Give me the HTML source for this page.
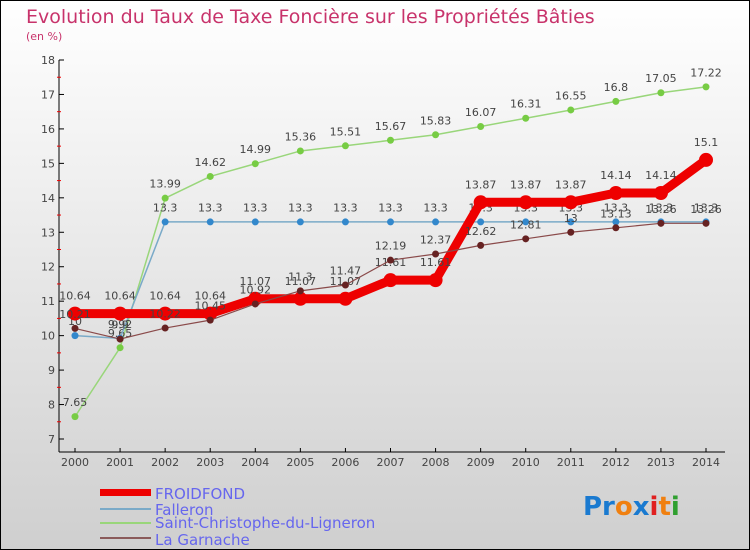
<!DOCTYPE html>
<html><head><meta charset="utf-8"><style>
body{margin:0}
svg{display:block;font-family:"DejaVu Sans","Liberation Sans",sans-serif}
</style></head><body>
<svg id="c" width="750" height="550" viewBox="0 0 750 550">
<defs><linearGradient id="bg" x1="0" y1="0" x2="0" y2="1"><stop offset="0" stop-color="#ffffff"/><stop offset="1" stop-color="#cfcfcf"/></linearGradient></defs>
<rect x="0.5" y="0.5" width="749" height="549" fill="url(#bg)" stroke="#000"/>
<text x="26" y="23" font-size="19" fill="#c8336b">Evolution du Taux de Taxe Foncière sur les Propriétés Bâties</text>
<text x="26" y="40" font-size="11" fill="#c8336b">(en %)</text>
<g id="axes"></g><g id="series"></g>
<g>
<rect x="100" y="489" width="51" height="7" fill="#ee0000"/>
<text x="155" y="499" font-size="15" fill="#6666ee">FROIDFOND</text>
<rect x="100" y="508" width="51" height="2" fill="#7aaac8"/>
<text x="155" y="515" font-size="15" fill="#6666ee">Falleron</text>
<rect x="100" y="522" width="51" height="2" fill="#99d67a"/>
<text x="155" y="528" font-size="15" fill="#6666ee">Saint-Christophe-du-Ligneron</text>
<rect x="100" y="537" width="51" height="2" fill="#8a5a5a"/>
<text x="155" y="545" font-size="15" fill="#6666ee">La Garnache</text>
</g>
<text x="583" y="515" font-size="26" font-weight="bold"><tspan fill="#1a7ad0">Pr</tspan><tspan fill="#f08010">o</tspan><tspan fill="#1a7ad0">x</tspan><tspan fill="#e02020">i</tspan><tspan fill="#f08010">t</tspan><tspan fill="#30a030">i</tspan></text>
</svg>
<script>
const years=[2000,2001,2002,2003,2004,2005,2006,2007,2008,2009,2010,2011,2012,2013,2014];
const yTicks=[7,8,9,10,11,12,13,14,15,16,17,18];
const froidfond=[10.64,10.64,10.64,10.64,11.07,11.07,11.07,11.61,11.61,13.87,13.87,13.87,14.14,14.14,15.1];
const falleron=[10,9.92,13.3,13.3,13.3,13.3,13.3,13.3,13.3,13.3,13.3,13.3,13.3,13.3,13.3];
const stchristophe=[7.65,9.65,13.99,14.62,14.99,15.36,15.51,15.67,15.83,16.07,16.31,16.55,16.8,17.05,17.22];
const lagarnache=[10.21,9.9,10.22,10.45,10.92,11.3,11.47,12.19,12.37,12.62,12.81,13,13.13,13.26,13.26];
const NS="http://www.w3.org/2000/svg";
const X=i=>75+i*(706-75)/(years.length-1);
const Y=v=>439-(v-7)*(439-60)/11;
function mk(t,a,p){const e=document.createElementNS(NS,t);for(const k in a)e.setAttribute(k,a[k]);p.appendChild(e);return e;}
const ax=document.getElementById('axes');
const xa=mk('line',{x1:59,y1:452,x2:725,y2:452,stroke:'#000'},ax);


const ya=mk('line',{x1:59,y1:60,x2:59,y2:452,stroke:'#000'},ax);


yTicks.forEach(v=>{
 mk('line',{x1:59,y1:Y(v),x2:64,y2:Y(v),stroke:'#000'},ax);
 if(v<18)mk('line',{x1:57,y1:Y(v+0.5),x2:61,y2:Y(v+0.5),stroke:'#e00'},ax);
 const t=mk('text',{x:55,y:Y(v)+4,'font-size':11,fill:'#444','text-anchor':'end'},ax);t.textContent=v;
 
 
});
years.forEach((yr,i)=>{
 mk('line',{x1:X(i),y1:448,x2:X(i),y2:452,stroke:'#000'},ax);
 const t=mk('text',{x:X(i),y:466,'font-size':11,fill:'#444','text-anchor':'middle'},ax);t.textContent=yr;
 
 
});
const sg=document.getElementById('series');
function series(name,data,color,w,r,dotColor){
 const g=mk('g',{},sg);
 
 
 mk('polyline',{points:data.map((v,i)=>X(i)+','+Y(v)).join(' '),fill:'none',stroke:color,'stroke-width':w,'stroke-linejoin':'round'},g);
 data.forEach((v,i)=>{
  const c=mk('circle',{cx:X(i),cy:Y(v),r:r,fill:dotColor},g);
  
  
  const t=mk('text',{x:X(i),y:Y(v)-(r+7),'font-size':11,fill:'#444','text-anchor':'middle'},g);t.textContent=v;
  
  
 });
}
series('stchristophe',stchristophe,'#99d67a',1.5,3.5,'#77cc44');
series('falleron',falleron,'#7aaac8',1.5,3.5,'#3388cc');
series('froidfond',froidfond,'#ee0000',9,7,'#ee0000');
series('lagarnache',lagarnache,'#8a4a4a',1.2,3.5,'#662222');
</script>
</body></html>
